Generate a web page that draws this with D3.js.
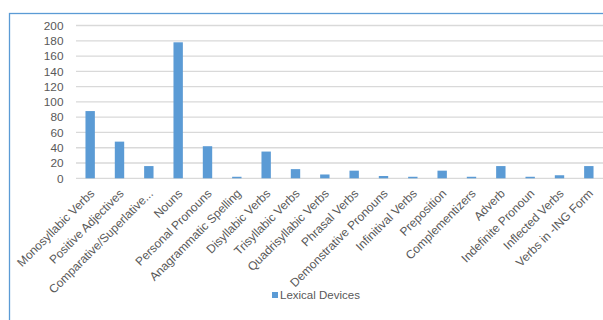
<!DOCTYPE html>
<html>
<head>
<meta charset="utf-8">
<script src="https://cdn.jsdelivr.net/npm/d3@7/dist/d3.min.js"></script>
<style>
  html, body { margin: 0; padding: 0; background: #fff; }
  svg { display: block; }
  text { font-family: "Liberation Sans", Arial, sans-serif; fill: #595959; }
</style>
</head>
<body>
<svg id="chart" width="603" height="320"></svg>
<script>
// Counts of lexical devices per category
const categories = [
  "Monosyllabic Verbs", "Positive Adjectives", "Comparative/Superlative...",
  "Nouns", "Personal Pronouns", "Anagrammatic Spelling", "Disyllabic Verbs",
  "Trisyllabic Verbs", "Quadrisyllabic Verbs", "Phrasal Verbs",
  "Demonstrative Pronouns", "Infinitival Verbs", "Preposition",
  "Complementizers", "Adverb", "Indefinite Pronoun", "Inflected Verbs",
  "Verbs in -ING Form"
];
const lexicalDevices = [88, 48, 16, 178, 42, 2, 35, 12, 5, 10, 3, 2, 10, 2, 16, 2, 4, 16];
const yTicks = [0, 20, 40, 60, 80, 100, 120, 140, 160, 180, 200];
const seriesName = "Lexical Devices";

const svg = d3.select("#chart");
const barColor = "#5b9bd5";

// Outer chart frame (extends past the visible area on the right and bottom)
svg.append("rect")
  .attr("x", 9.5).attr("y", 13.5)
  .attr("width", 700).attr("height", 400)
  .attr("fill", "none")
  .attr("stroke", barColor)
  .attr("stroke-width", 1.3);

const x = d3.scaleBand()
  .domain(categories)
  .range([75.5, 603.5])
  .paddingInner(0.68)
  .paddingOuter(0.34);

const y = d3.scaleLinear()
  .domain([0, 200])
  .range([178.3, 25.5]);

// Horizontal gridlines
svg.append("g")
  .selectAll("line")
  .data(yTicks)
  .join("line")
  .attr("x1", 76).attr("x2", 603)
  .attr("y1", d => y(d)).attr("y2", d => y(d))
  .attr("stroke", "#d9d9d9")
  .attr("stroke-width", 1.3);

// Y axis labels
const yAxis = d3.axisLeft(y).tickValues(yTicks).tickSize(0).tickPadding(0);
const gy = svg.append("g").attr("transform", "translate(63.5,0)").call(yAxis);
gy.select(".domain").remove();
gy.selectAll("text")
  .attr("font-size", "11.8px")
  .attr("font-family", "Liberation Sans, Arial, sans-serif")
  .attr("fill", "#595959");

// Bars
svg.append("g")
  .selectAll("rect")
  .data(lexicalDevices)
  .join("rect")
  .attr("x", (d, i) => x(categories[i]))
  .attr("width", x.bandwidth())
  .attr("y", d => y(d))
  .attr("height", d => y(0) - y(d))
  .attr("fill", barColor);

// X axis with rotated category labels
const xAxis = d3.axisBottom(x).tickSize(0).tickPadding(0);
const gx = svg.append("g").attr("transform", `translate(0,${y(0)})`).call(xAxis);
gx.select(".domain").remove();
gx.selectAll("text")
  .attr("font-size", "12px")
  .attr("font-family", "Liberation Sans, Arial, sans-serif")
  .attr("fill", "#595959")
  .attr("text-anchor", "end")
  .attr("dy", null)
  .attr("y", 0)
  .attr("transform", "translate(5,16) rotate(-45)");

// Legend
const legend = svg.append("g").attr("transform", "translate(272,292)");
legend.append("rect")
  .attr("width", 6).attr("height", 6)
  .attr("fill", barColor);
legend.append("text")
  .attr("x", 8).attr("y", 3)
  .attr("dy", "0.35em")
  .attr("font-size", "11.5px")
  .text(seriesName);
</script>
</body>
</html>
